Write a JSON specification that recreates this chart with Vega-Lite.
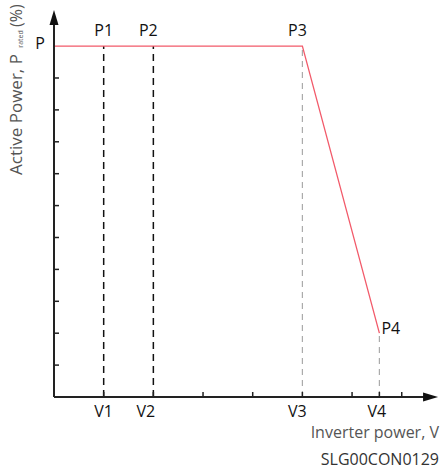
{
  "$schema": "https://vega.github.io/schema/vega-lite/v6.json",
  "width": 385,
  "height": 386,
  "autosize": {"type": "none"},
  "padding": {"left": 54, "top": 11, "right": 6, "bottom": 74},
  "background": "white",
  "config": {"view": {"stroke": null}, "text": {"font": "Open Sans"}},
  "datasets": {
    "curve": [{"x": 0, "y": 11}, {"x": 5, "y": 11}, {"x": 6.55, "y": 2}],
    "blackDash": [{"x": 1, "y": 0, "y2": 11}, {"x": 2, "y": 0, "y2": 11}],
    "grayDash": [{"x": 5, "y": 0, "y2": 11}, {"x": 6.55, "y": 0, "y2": 2}],
    "xTicks": [{"x": 1, "y": 0}, {"x": 2, "y": 0}, {"x": 3, "y": 0}, {"x": 4, "y": 0}, {"x": 5, "y": 0}, {"x": 6, "y": 0}, {"x": 6.55, "y": 0}, {"x": 7, "y": 0}],
    "yTicks": [{"x": 0, "y": 1}, {"x": 0, "y": 2}, {"x": 0, "y": 3}, {"x": 0, "y": 4}, {"x": 0, "y": 5}, {"x": 0, "y": 6}, {"x": 0, "y": 7}, {"x": 0, "y": 8}, {"x": 0, "y": 9}, {"x": 0, "y": 10}],
    "yAxis": [{"x": 0, "y": 0, "y2": 11.8}],
    "xAxis": [{"x": 0, "x2": 7.5, "y": 0}],
    "upArrow": [{"x": 0, "y": 11.9}],
    "rightArrow": [{"x": 7.58, "y": 0}],
    "topLabels": [{"x": 1, "y": 11, "label": "P1"}, {"x": 1.9, "y": 11, "label": "P2"}, {"x": 4.9, "y": 11, "label": "P3"}],
    "p4Label": [{"x": 6.55, "y": 2, "label": "P4"}],
    "pLabel": [{"x": 0, "y": 11, "label": "P"}],
    "vLabels": [{"x": 1, "y": 0, "label": "V1"}, {"x": 1.85, "y": 0, "label": "V2"}, {"x": 4.9, "y": 0, "label": "V3"}, {"x": 6.5, "y": 0, "label": "V4"}],
    "xTitle": [{"x": 7.75, "y": 0, "label": "Inverter power, V"}],
    "code": [{"x": 7.75, "y": 0, "label": "SLG00CON0129"}],
    "yTitle1": [{"x": -0.745, "y": 6.96, "label": "Active Power, P"}],
    "yTitle2": [{"x": -0.66, "y": 10.95, "label": "rated"}],
    "yTitle3": [{"x": -0.745, "y": 11.6, "label": "(%)"}]
  },
  "encoding": {
    "x": {"field": "x", "type": "quantitative", "scale": {"domain": [0, 7.75], "nice": false, "zero": false}, "axis": null},
    "y": {"field": "y", "type": "quantitative", "scale": {"domain": [0, 12.1], "nice": false, "zero": false}, "axis": null}
  },
  "layer": [
    {"data": {"name": "blackDash"}, "mark": {"type": "rule", "color": "#111", "strokeWidth": 1.5, "strokeDash": [7, 5]}, "encoding": {"y2": {"field": "y2"}}},
    {"data": {"name": "grayDash"}, "mark": {"type": "rule", "color": "#aaaaaa", "strokeWidth": 1.2, "strokeDash": [6, 5]}, "encoding": {"y2": {"field": "y2"}}},
    {"data": {"name": "curve"}, "mark": {"type": "line", "color": "#f25a6a", "strokeWidth": 1.3}, "encoding": {}},
    {"data": {"name": "yAxis"}, "mark": {"type": "rule", "color": "#222", "strokeWidth": 2}, "encoding": {"y2": {"field": "y2"}}},
    {"data": {"name": "xAxis"}, "mark": {"type": "rule", "color": "#222", "strokeWidth": 2}, "encoding": {"x2": {"field": "x2"}}},
    {"data": {"name": "xTicks"}, "mark": {"type": "tick", "orient": "vertical", "color": "#222", "size": 5, "thickness": 1.5, "yOffset": -2.5, "opacity": 1}, "encoding": {}},
    {"data": {"name": "yTicks"}, "mark": {"type": "tick", "orient": "horizontal", "color": "#222", "size": 5, "thickness": 1.5, "xOffset": 2.5, "opacity": 1}, "encoding": {}},
    {"data": {"name": "upArrow"}, "mark": {"type": "point", "shape": "M0,-1L0.6,1L-0.6,1Z", "size": 225, "filled": true, "color": "#111", "opacity": 1}, "encoding": {}},
    {"data": {"name": "rightArrow"}, "mark": {"type": "point", "shape": "M1,0L-1,0.6L-1,-0.6Z", "size": 225, "filled": true, "color": "#111", "opacity": 1}, "encoding": {}},
    {"data": {"name": "topLabels"}, "mark": {"type": "text", "fontSize": 16, "color": "#111", "align": "center", "baseline": "middle", "dy": -15}, "encoding": {"text": {"field": "label"}}},
    {"data": {"name": "p4Label"}, "mark": {"type": "text", "fontSize": 16, "color": "#111", "align": "left", "baseline": "middle", "dx": 2, "dy": -4}, "encoding": {"text": {"field": "label"}}},
    {"data": {"name": "pLabel"}, "mark": {"type": "text", "fontSize": 16, "color": "#111", "align": "center", "baseline": "middle", "dx": -14, "dy": -2}, "encoding": {"text": {"field": "label"}}},
    {"data": {"name": "vLabels"}, "mark": {"type": "text", "fontSize": 16, "color": "#111", "align": "center", "baseline": "middle", "dy": 15}, "encoding": {"text": {"field": "label"}}},
    {"data": {"name": "xTitle"}, "mark": {"type": "text", "fontSize": 16, "color": "#555", "align": "right", "baseline": "middle", "dy": 36}, "encoding": {"text": {"field": "label"}}},
    {"data": {"name": "code"}, "mark": {"type": "text", "fontSize": 16, "color": "#333", "align": "right", "baseline": "middle", "dy": 63}, "encoding": {"text": {"field": "label"}}},
    {"data": {"name": "yTitle1"}, "mark": {"type": "text", "fontSize": 17, "color": "#555", "align": "left", "baseline": "middle", "angle": 270}, "encoding": {"text": {"field": "label"}}},
    {"data": {"name": "yTitle2"}, "mark": {"type": "text", "fontSize": 7, "color": "#555", "align": "left", "baseline": "middle", "angle": 270}, "encoding": {"text": {"field": "label"}}},
    {"data": {"name": "yTitle3"}, "mark": {"type": "text", "fontSize": 16, "color": "#555", "align": "left", "baseline": "middle", "angle": 270}, "encoding": {"text": {"field": "label"}}}
  ]
}
